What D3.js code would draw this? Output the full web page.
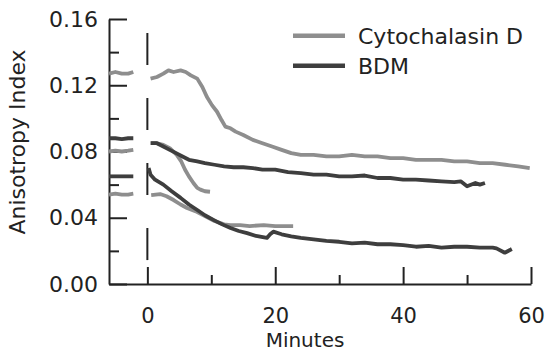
<!DOCTYPE html>
<meta charset="utf-8">
<style>
body{margin:0;background:#fff;}
text{font-family:"DejaVu Sans",sans-serif;font-size:22px;fill:#222;}
.axis path,.axis line{stroke:#222;stroke-width:2px;}
.trace{fill:none;stroke-width:3.8px;stroke-linejoin:round;}
</style>
<body>
<script src="https://d3js.org/d3.v7.min.js"></script>
<script>
// time before drug (minutes)
var preT = [-6, -5, -4, -3, -2.2];
var preCdTop = [0.127, 0.128, 0.127, 0.127, 0.128];
var preBdmTop = [0.088, 0.088, 0.0875, 0.088, 0.088];
var preCdMid = [0.080, 0.0805, 0.080, 0.0805, 0.081];
var preBdmLow = [0.065, 0.065, 0.065, 0.065, 0.065];
var preCdLow = [0.054, 0.0545, 0.054, 0.054, 0.0545];

// Cytochalasin D traces
var cdTopT = [0.5,1.5,2.5,3.3,4.1,5.2,6.0,6.8,7.8,8.6,9.3,10.1,10.9,11.6,12.2,13.0,13.8,15.0,16.5,18,19.5,21,22.5,24,26,28,30,32,34,36,38,40,42,44,46,48,50,52,54,56,58,59.8];
var cdTopV = [0.124,0.125,0.127,0.129,0.128,0.129,0.128,0.126,0.124,0.119,0.113,0.108,0.104,0.099,0.095,0.094,0.092,0.090,0.087,0.085,0.083,0.081,0.079,0.078,0.078,0.077,0.077,0.078,0.077,0.077,0.076,0.076,0.075,0.075,0.075,0.074,0.074,0.073,0.073,0.072,0.071,0.070];
var cdMidT = [0.6,1.5,2.5,3.5,4.6,5.3,5.9,6.5,7.2,7.8,8.3,9,9.8];
var cdMidV = [0.085,0.085,0.084,0.082,0.078,0.074,0.069,0.065,0.061,0.058,0.057,0.056,0.0557];
var cdLowT = [0.6,2,3,4.1,5.2,6.2,7.5,9,10.5,12,13,14.5,16,18.2,20,21.5,22.8];
var cdLowV = [0.0537,0.0543,0.053,0.0507,0.048,0.0459,0.044,0.041,0.038,0.036,0.0356,0.0355,0.035,0.0356,0.035,0.035,0.035];

// BDM traces
var bdmTopT = [0.5,1.5,2.5,3.5,4.5,5.5,6.5,7.8,9,10.5,12,13.5,15,16.5,18,20,22,24,26,28,30,32,34,36,38,40,42,44,46,48,49,50,51.3,52,52.8];
var bdmTopV = [0.085,0.085,0.083,0.081,0.079,0.077,0.075,0.074,0.073,0.072,0.071,0.0705,0.0705,0.070,0.069,0.069,0.0675,0.067,0.066,0.066,0.065,0.065,0.0655,0.064,0.064,0.063,0.063,0.0625,0.062,0.0615,0.062,0.059,0.061,0.060,0.061];
var bdmLowT = [0.2,0.5,1.2,2.5,3.8,5.2,6.5,7.8,9,10.4,11.7,13,14.3,15.6,17,18.7,19.2,19.7,21,22.5,24,26,28,30,32,34,36,38,40,42,44,46,48,50,52,54,54.6,55.9,57];
var bdmLowV = [0.070,0.066,0.063,0.060,0.056,0.052,0.048,0.0447,0.0415,0.0386,0.036,0.0338,0.032,0.0307,0.029,0.0278,0.030,0.0316,0.030,0.0288,0.0278,0.027,0.026,0.0255,0.0245,0.025,0.024,0.024,0.0235,0.0225,0.023,0.022,0.0225,0.0225,0.022,0.022,0.0215,0.0189,0.0211];

var xTicks = [0, 20, 40, 60];
var xMinor = [10, 30, 50];
var yTicks = [0, 0.04, 0.08, 0.12, 0.16];
var yMinor = [0.02, 0.06, 0.10, 0.14];

var light = "#8e8e8e", dark = "#3e3e3e";

var svg = d3.select("body").append("svg").attr("width", 548).attr("height", 351);

var x = d3.scaleLinear().domain([-6, 60]).range([109, 531]);
var y = d3.scaleLinear().domain([0, 0.16]).range([284, 19]);

// minor ticks
svg.append("g").attr("class","axis").attr("transform","translate(0,284)")
    .call(d3.axisBottom(x).tickValues(xMinor).tickSize(-9).tickSizeOuter(0).tickFormat(""))
    .select(".domain").remove();
svg.append("g").attr("class","axis").attr("transform","translate(109,0)")
    .call(d3.axisLeft(y).tickValues(yMinor).tickSize(-10).tickSizeOuter(0).tickFormat(""))
    .select(".domain").remove();

var xg = svg.append("g").attr("class","axis").attr("transform","translate(0,284)")
    .call(d3.axisBottom(x).tickValues(xTicks).tickSize(-17).tickSizeOuter(0).tickPadding(24).tickFormat(d3.format("d")));
xg.selectAll("text").attr("fill","#222").style("font-size","21px").style("font-family","DejaVu Sans");
var yg = svg.append("g").attr("class","axis").attr("transform","translate(109,0)")
    .call(d3.axisLeft(y).tickValues(yTicks).tickSize(-18).tickSizeOuter(0).tickPadding(11).tickFormat(d3.format(".2f")));
yg.selectAll("text").attr("fill","#222").style("font-size","22px").style("font-family","DejaVu Sans");

// drug addition marker
svg.append("line")
    .attr("x1", x(0)).attr("x2", x(0))
    .attr("y1", y(0.1515)).attr("y2", y(0))
    .attr("stroke", "#222").attr("stroke-width", 2)
    .attr("stroke-dasharray", "32,33");

var line = d3.line().x(d => x(d[0])).y(d => y(d[1]));
function trace(t, v, col){
    svg.append("path").attr("class","trace")
        .attr("stroke", col)
        .attr("d", line(d3.zip(t, v)));
}

trace(preT, preCdTop, light);
trace(preT, preCdMid, light);
trace(preT, preCdLow, light);
trace(preT, preBdmTop, dark);
trace(preT, preBdmLow, dark);

trace(cdTopT, cdTopV, light);
trace(cdMidT, cdMidV, light);
trace(cdLowT, cdLowV, light);
trace(bdmTopT, bdmTopV, dark);
trace(bdmLowT, bdmLowV, dark);

// labels
svg.append("text").attr("x", 305).attr("y", 346.5).attr("text-anchor","middle")
    .style("font-size","20px").text("Minutes");
svg.append("text").attr("transform","translate(25,142) rotate(-90)")
    .attr("text-anchor","middle").text("Anisotropy Index");

// legend
var legend = [["Cytochalasin D", light], ["BDM", dark]];
legend.forEach(function(d, i){
    var ly = 35.7 + i*30;
    svg.append("line").attr("x1",293).attr("x2",345).attr("y1",ly).attr("y2",ly)
        .attr("stroke", d[1]).attr("stroke-width", 4.5);
    svg.append("text").attr("x", 358).attr("y", ly + 8).text(d[0]);
});
</script>
</body>
</html>
